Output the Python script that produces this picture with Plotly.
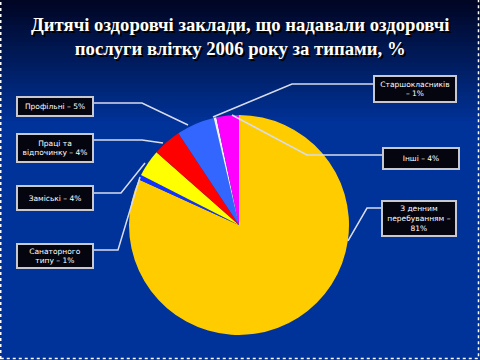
import plotly.graph_objects as go

# ---- data ----
labels = ["З денним перебуванням", "Санаторного типу", "Заміські",
          "Праці та відпочинку", "Профільні", "Старшокласників", "Інші"]
values = [81.8, 0.7, 4.0, 4.2, 5.6, 0.4, 3.3]
label_texts = ["З денним<br>перебуванням –<br>81%", "Санаторного<br>типу – 1%",
               "Заміські – 4%", "Праці та<br>відпочинку – 4%", "Профільні – 5%",
               "Старшокласників<br>– 1%", "Інші – 4%"]
title_text = "Дитячі оздоровчі заклади, що надавали оздоровчі<br>послуги влітку 2006 року за типами, %"

# ---- styles / layout ----
colors = ["#FFCC00", "#1133FF", "#FFFF00", "#FF0000", "#3366FF", "#F0F0FF", "#FF00FF"]
W, H = 480, 360
# box centre (px), box size (px), leader polyline (px)
boxes = [
    (419, 219, 72, 33, [(383, 208), (367, 208), (348, 241)]),
    (55, 256, 74, 22, [(93, 250), (118, 250), (140, 177)]),
    (55, 198, 74, 22, [(93, 193), (121, 193), (145, 163)]),
    (55, 148, 74, 26, [(93, 140), (142, 140), (163, 143)]),
    (55, 106, 74, 17, [(93, 103), (142, 103), (188, 125)]),
    (415, 89, 80, 24, [(375, 84), (292, 84), (213, 117)]),
    (421, 158, 74, 19, [(383, 155), (307, 155), (232, 115)]),
]

def px(x):
    return x / W

def py(y):
    return 1 - y / H

fig = go.Figure()
fig.add_trace(go.Pie(
    labels=labels, values=values, sort=False, direction="clockwise", rotation=0,
    marker=dict(colors=colors, line=dict(width=0)),
    textinfo="none", hoverinfo="label+percent", showlegend=False,
    domain=dict(x=[129 / W, 349 / W], y=[py(335), py(115)]),
))

shapes = []
# background gradient at top
n = 30
top_c = (0, 6, 36)
bot_c = (0, 51, 153)
for i in range(n):
    t = i / (n - 1)
    c = tuple(int(top_c[k] + (bot_c[k] - top_c[k]) * t) for k in range(3))
    y0 = 125 * i / n
    y1 = 125 * (i + 1) / n + 1
    shapes.append(dict(type="rect", xref="paper", yref="paper", x0=0, x1=1,
                       y0=py(y1), y1=py(y0), fillcolor="rgb(%d,%d,%d)" % c,
                       line=dict(width=0), layer="below"))
# dashed slide border
shapes.append(dict(type="rect", xref="paper", yref="paper", x0=px(0.75), x1=px(478.5),
                   y0=py(358.5), y1=py(-5), line=dict(color="white", width=1.5, dash="dot"),
                   layer="above"))
# leader lines
for (_, _, _, _, pts) in boxes:
    path = "M " + " L ".join("%.4f,%.4f" % (px(a), py(b)) for a, b in pts)
    shapes.append(dict(type="path", xref="paper", yref="paper", path=path,
                       line=dict(color="#D8DCEC", width=1.5), layer="above"))

annotations = [dict(
    text="<b>" + title_text + "</b>", x=0.5, y=py(37), xref="paper", yref="paper",
    xanchor="center", yanchor="middle", showarrow=False,
    font=dict(family="Liberation Serif", size=18.7, color="white", shadow="2px 2px 0px black"),
)]
for (cx, cy, bw, bh, _), t in zip(boxes, label_texts):
    annotations.append(dict(
        text=t, x=px(cx), y=py(cy), xref="paper", yref="paper", xanchor="center",
        yanchor="middle", showarrow=False, width=bw, height=bh, align="center",
        valign="middle", bgcolor="#050510", bordercolor="#C8C8D0", borderwidth=2,
        borderpad=0, font=dict(family="DejaVu Sans", size=7.5, color="white"),
    ))

fig.update_layout(
    width=W, height=H, margin=dict(l=0, r=0, t=0, b=0),
    paper_bgcolor="#003399", plot_bgcolor="#003399",
    shapes=shapes, annotations=annotations,
)
fig.write_html("out.html", config={"displayModeBar": False},
               post_script="document.body.style.margin='0';")
